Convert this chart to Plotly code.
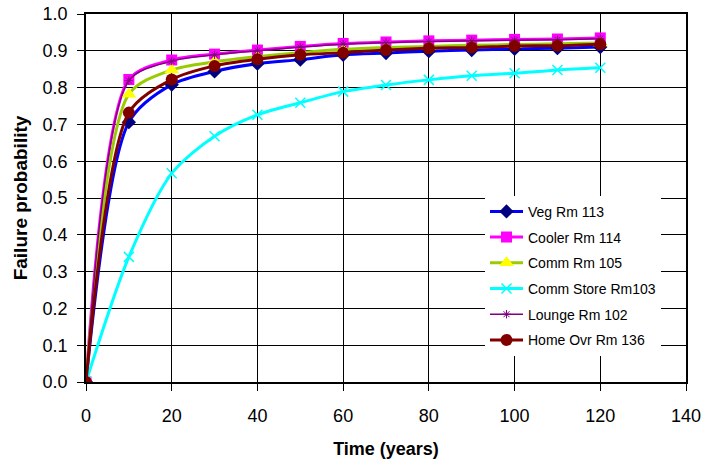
import plotly.graph_objects as go

time = [0, 10, 20, 30, 40, 50, 60, 70, 80, 90, 100, 110, 120]
veg = [0.0, 0.706, 0.808, 0.844, 0.865, 0.876, 0.889, 0.894, 0.899, 0.902, 0.905, 0.907, 0.910]
cooler = [0.0, 0.822, 0.875, 0.891, 0.902, 0.912, 0.920, 0.924, 0.927, 0.929, 0.931, 0.932, 0.935]
comm = [0.0, 0.782, 0.848, 0.870, 0.884, 0.895, 0.904, 0.909, 0.912, 0.915, 0.917, 0.919, 0.921]
store = [0.0, 0.340, 0.567, 0.668, 0.726, 0.759, 0.789, 0.807, 0.821, 0.832, 0.839, 0.848, 0.854]
lounge = [0.0, 0.819, 0.872, 0.889, 0.900, 0.910, 0.918, 0.922, 0.925, 0.927, 0.929, 0.930, 0.933]
home = [0.0, 0.732, 0.822, 0.859, 0.877, 0.889, 0.895, 0.902, 0.907, 0.909, 0.913, 0.914, 0.918]

names = ["Veg Rm 113", "Cooler Rm 114", "Comm Rm 105", "Comm Store Rm103", "Lounge Rm 102", "Home Ovr Rm 136"]
series = [veg, cooler, comm, store, lounge, home]
line_colors = ["#0000FF", "#FF00FF", "#99CC00", "#00FFFF", "#800080", "#800000"]
marker_colors = ["#000080", "#FF00FF", "#FFFF00", "#00FFFF", "#800080", "#800000"]
symbols = ["diamond", "square", "triangle-up", "x-thin-open", "asterisk-open", "circle"]
sizes = [11, 11, 13, 10, 7, 12]
widths = [3, 3, 3, 3, 1.5, 3]

fig = go.Figure()
for i in range(len(names)):
    mk = dict(symbol=symbols[i], size=sizes[i], color=marker_colors[i])
    if symbols[i].endswith("open"):
        mk["line"] = dict(width=1.5 if i == 3 else 1, color=marker_colors[i])
    else:
        mk["line"] = dict(width=0)
    fig.add_trace(go.Scatter(
        x=time, y=series[i], name=names[i], mode="lines+markers",
        line=dict(color=line_colors[i], width=widths[i], shape="spline", smoothing=0.8),
        marker=mk, legendgroup=f"g{i}",
    ))

fig.update_layout(
    width=719, height=463,
    margin=dict(l=86, r=33, t=14, b=81),
    paper_bgcolor="white", plot_bgcolor="white",
    font=dict(family="Liberation Sans, Arial", size=14, color="black"),
    showlegend=True,
    legend=dict(x=0.665, y=0.506, xanchor="left", yanchor="top",
                bgcolor="white", borderwidth=0, tracegroupgap=4.5, itemwidth=33,
                font=dict(size=14, family="Liberation Sans, Arial")),
)
fig.update_xaxes(
    range=[0, 140], tick0=0, dtick=20, showgrid=True, gridcolor="black", gridwidth=1,
    showline=True, linecolor="black", linewidth=1.5, mirror=True, automargin=False,
    ticks="outside", ticklen=7, tickcolor="black", zeroline=False, ticklabelstandoff=10,
    tickfont=dict(size=18),
    title=dict(text="<b>Time (years)</b>", standoff=17, font=dict(size=18)),
)
fig.update_yaxes(
    range=[0, 1.0], tick0=0, dtick=0.1, tickformat=".1f", showgrid=True, gridcolor="black", gridwidth=1,
    showline=True, linecolor="black", linewidth=1.5, mirror=True, automargin=False,
    ticks="outside", ticklen=7, tickcolor="black", zeroline=False, ticklabelstandoff=6,
    tickfont=dict(size=18),
    title=dict(text="<b>Failure probability</b>", standoff=10, font=dict(size=19)),
)

fig.write_html("out.html")
